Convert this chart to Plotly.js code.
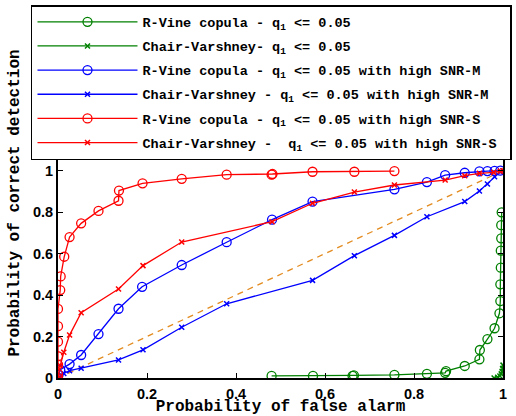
<!DOCTYPE html>
<html>
<head>
<meta charset="utf-8">
<script src="https://cdn.plot.ly/plotly-3.0.1.min.js"></script>
<style>html,body{margin:0;padding:0;background:#fff;}#chart{width:516px;height:416px;}</style>
</head>
<body>
<div id="chart"></div>
<script>
// R-Vine copula - q1 <= 0.05 (green circles)
const rvineQ1_pfa = [0.48,0.573,0.662,0.665,0.756,0.829,0.870,0.872,0.914,0.947,0.948,0.965,0.981,0.992,0.994,0.994,0.995,0.995,0.996,0.996,0.997];
const rvineQ1_pd  = [0.010,0.010,0.010,0.013,0.015,0.020,0.025,0.033,0.058,0.090,0.135,0.188,0.240,0.312,0.371,0.452,0.532,0.614,0.674,0.737,0.799];
// Chair-Varshney - q1 <= 0.05 (green x)
const cvQ1_pfa = [0.980,0.988,0.993,0.996,0.998,0.999,1.0];
const cvQ1_pd  = [0.000,0.004,0.010,0.020,0.032,0.046,0.062];
// R-Vine copula - high SNR-M (blue circles)
const rvineM_pfa = [0,0.001,0.005,0.026,0.052,0.091,0.136,0.189,0.278,0.379,0.481,0.572,0.756,0.829,0.870,0.914,0.947,0.965,0.981,0.994];
const rvineM_pd  = [0,0.015,0.040,0.067,0.111,0.212,0.334,0.440,0.545,0.655,0.764,0.851,0.910,0.945,0.979,0.990,0.997,0.998,0.999,1.0];
// Chair-Varshney - high SNR-M (blue x)
const cvM_pfa = [0,0.013,0.026,0.052,0.136,0.191,0.278,0.379,0.572,0.666,0.756,0.829,0.914,0.947,0.965,0.981,0.994,1.0];
const cvM_pd  = [0,0.022,0.035,0.047,0.087,0.136,0.245,0.358,0.471,0.590,0.688,0.778,0.851,0.902,0.936,0.971,0.995,1.0];
// R-Vine copula - high SNR-S (red circles)
const rvineS_pfa = [0,0,0,0,0,0,0,0.005,0.006,0.014,0.026,0.052,0.091,0.136,0.137,0.190,0.278,0.379,0.480,0.482,0.572,0.666,0.756];
const rvineS_pd  = [0,0.020,0.065,0.105,0.175,0.250,0.333,0.424,0.490,0.585,0.680,0.746,0.806,0.855,0.904,0.939,0.961,0.981,0.981,0.984,0.995,0.995,0.998];
// Chair-Varshney - high SNR-S (red x)
const cvS_pfa = [0,0.005,0.013,0.026,0.052,0.136,0.191,0.278,0.481,0.572,0.666,0.756,0.870,0.914,0.947,0.979,0.994,1.0];
const cvS_pd  = [0,0.060,0.124,0.207,0.315,0.429,0.542,0.656,0.754,0.843,0.897,0.931,0.955,0.976,0.987,0.992,0.998,1.0];
// chance line
const chance_x = [0,1];
const chance_y = [0,1];

const tickValues = [0, 0.2, 0.4, 0.6, 0.8, 1];
const tickLabels = ['0','0.2','0.4','0.6','0.8','1'];

const legendNames = [
  'R-Vine copula - q<sub>1</sub> &lt;= 0.05',
  'Chair-Varshney- q<sub>1</sub> &lt;= 0.05',
  'R-Vine copula - q<sub>1</sub> &lt;= 0.05 with high SNR-M',
  'Chair-Varshney - q<sub>1</sub> &lt;= 0.05 with high SNR-M',
  'R-Vine copula - q<sub>1</sub> &lt;= 0.05 with high SNR-S',
  'Chair-Varshney -  q<sub>1</sub> &lt;= 0.05 with high SNR-S&nbsp;'
];
const GREEN = '#008000', BLUE = '#0000FF', RED = '#FF0000', ORANGE = '#E38B1F';

function circ(x, y, c, name, g) {
  return {x, y, name, legendgroup: g, type: 'scatter', mode: 'lines+markers',
    line: {color: c, width: 1.3},
    marker: {symbol: 'circle-open', size: 9, color: c, line: {color: c, width: 1.3}}};
}
function cross(x, y, c, name, g) {
  return {x, y, name, legendgroup: g, type: 'scatter', mode: 'lines+markers',
    line: {color: c, width: 1.3},
    marker: {symbol: 'x-thin-open', size: 5, color: c, line: {color: c, width: 1.5}}};
}

const data = [
  {x: chance_x, y: chance_y, type: 'scatter', mode: 'lines', showlegend: false,
   line: {color: ORANGE, width: 1.3, dash: '6px,5px'}},
  circ(rvineQ1_pfa, rvineQ1_pd, GREEN, legendNames[0], 'a'),
  cross(cvQ1_pfa, cvQ1_pd, GREEN, legendNames[1], 'b'),
  circ(rvineM_pfa, rvineM_pd, BLUE, legendNames[2], 'c'),
  cross(cvM_pfa, cvM_pd, BLUE, legendNames[3], 'd'),
  circ(rvineS_pfa, rvineS_pd, RED, legendNames[4], 'e'),
  cross(cvS_pfa, cvS_pd, RED, legendNames[5], 'f')
];

const tickFont = {family: 'Liberation Sans, Arial, sans-serif', size: 14.5, color: '#000', weight: 'bold'};
const titleFont = {family: 'Liberation Mono, Courier New, monospace', size: 16, color: '#000', weight: 'bold'};

// plot area: x 58..503, y 28..378 (top part hidden under legend box)
const layout = {
  width: 516, height: 416,
  margin: {l: 58, r: 13, t: 28, b: 38, autoexpand: false},
  paper_bgcolor: '#fff', plot_bgcolor: '#fff',
  showlegend: true,
  legend: {
    x: -0.0607, xanchor: 'left', y: 1.0657, yanchor: 'top', yref: 'paper',
    bgcolor: '#fff', bordercolor: '#000', borderwidth: 1.5,
    font: {family: 'Liberation Mono, Courier New, monospace', size: 13.5, color: '#000', weight: 'bold'},
    itemwidth: 100, tracegroupgap: 3.6, traceorder: 'grouped'
  },
  xaxis: {
    range: [0, 1], tickvals: tickValues, ticktext: tickLabels, automargin: false,
    ticks: 'inside', ticklen: 5, tickwidth: 1, tickcolor: '#000',
    showline: true, linecolor: '#000', linewidth: 2, mirror: false,
    showgrid: false, zeroline: false, tickfont: tickFont, ticklabelstandoff: 2,
    title: {text: 'Probability of false alarm', font: titleFont, standoff: 7}
  },
  yaxis: {
    range: [0, 350 / 207.3], tickvals: tickValues, ticktext: tickLabels, automargin: false,
    ticks: 'inside', ticklen: 5, tickwidth: 1, tickcolor: '#000',
    showline: true, linecolor: '#000', linewidth: 2, mirror: 'ticks',
    showgrid: false, zeroline: false, tickfont: tickFont,
    title: {text: 'Probability of correct detection', font: titleFont, standoff: 9}
  }
};

Plotly.newPlot('chart', data, layout, {displayModeBar: false, staticPlot: true});
</script>
</body>
</html>
